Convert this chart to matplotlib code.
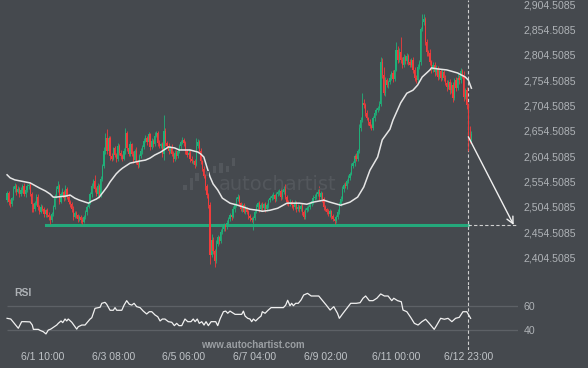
import matplotlib.pyplot as plt
from matplotlib.patches import Rectangle
import numpy as np

# hourly closes, first candle 5/31 11:00 (index 0)
closes = [2532, 2515, 2510, 2522, 2540, 2545, 2535, 2540, 2530, 2538,
          2545, 2530, 2538, 2545, 2548, 2530, 2510, 2500, 2512, 2525,
          2505, 2495, 2505, 2500, 2490, 2498, 2488, 2485, 2478, 2490,
          2505, 2525, 2540, 2545, 2515, 2530, 2535, 2522, 2540, 2525,
          2515, 2510, 2500, 2485, 2492, 2488, 2480, 2484, 2478, 2475,
          2485, 2494, 2505, 2515, 2530, 2545, 2555, 2540, 2530, 2545,
          2528, 2560, 2585, 2615, 2640, 2615, 2640, 2605, 2600, 2620,
          2608, 2600, 2625, 2612, 2605, 2600, 2615, 2650, 2620, 2610,
          2628, 2610, 2598, 2615, 2595, 2588, 2605, 2615, 2622, 2635,
          2640, 2632, 2648, 2622, 2635, 2628, 2645, 2650, 2630, 2625,
          2628, 2610, 2655, 2630, 2625, 2615, 2622, 2610, 2600, 2612,
          2605, 2615, 2625, 2632, 2636, 2630, 2615, 2608, 2612, 2600,
          2595, 2595, 2588, 2625, 2632, 2615, 2595, 2580, 2565, 2545,
          2528, 2508, 2410, 2440, 2418, 2398, 2432, 2445, 2438, 2455,
          2462, 2468, 2464, 2472, 2480, 2488, 2485, 2500, 2508, 2520,
          2525, 2512, 2500, 2508, 2495, 2502, 2494, 2486, 2482, 2478,
          2482, 2495, 2505, 2512, 2500, 2508, 2502, 2510, 2500, 2508,
          2518, 2522, 2526, 2528, 2520, 2530, 2534, 2536, 2524, 2535,
          2540, 2525, 2515, 2510, 2515, 2508, 2505, 2512, 2500, 2505,
          2500, 2506, 2495, 2485, 2498, 2502, 2505, 2510, 2516, 2522,
          2525, 2530, 2534, 2525, 2532, 2520, 2505, 2500, 2495, 2490,
          2496, 2486, 2480, 2476, 2485, 2495, 2510, 2520, 2540, 2548,
          2545, 2555, 2562, 2570, 2585, 2592, 2605, 2600, 2615, 2660,
          2676, 2710, 2705, 2690, 2680, 2672, 2665, 2660, 2680, 2690,
          2695, 2700, 2708, 2790, 2765, 2730, 2755, 2745, 2752, 2760,
          2768, 2758, 2775, 2815, 2795, 2810, 2795, 2785, 2800, 2792,
          2802, 2790, 2785, 2795, 2775, 2760, 2755, 2780, 2790, 2855,
          2870, 2876, 2830, 2810, 2808, 2790, 2775, 2785, 2770, 2778,
          2762, 2772, 2760, 2770, 2760, 2750, 2742, 2752, 2735, 2745,
          2720, 2755, 2740, 2760, 2755, 2772, 2765, 2722, 2735, 2705,
          2640, 2636, 2648]
first_open = 2518

# wick lengths above / below the body
up_wick = [5, 4, 6, 3, 5, 7, 4, 5, 3, 6,
           4, 6, 3, 5, 4, 6, 5, 3, 4, 6,
           5, 3, 6, 4, 5, 3, 4, 6, 3, 5,
           4, 6, 5, 11, 4, 5, 6, 3, 7, 4,
           5, 3, 4, 6, 5, 4, 3, 5, 4, 6,
           4, 5, 3, 6, 4, 7, 5, 12, 4, 6,
           5, 6, 4, 7, 10, 18, 5, 4, 6, 3,
           5, 4, 6, 3, 5, 4, 6, 10, 5, 4,
           6, 3, 5, 4, 7, 3, 5, 6, 4, 5,
           6, 4, 5, 3, 6, 4, 7, 5, 4, 6,
           3, 5, 31, 6, 4, 5, 3, 6, 4, 5,
           4, 6, 3, 5, 6, 4, 5, 3, 6, 4,
           5, 3, 4, 15, 6, 4, 5, 3, 6, 4,
           5, 4, 6, 12, 5, 4, 7, 5, 3, 6,
           4, 5, 3, 6, 4, 5, 3, 6, 4, 5,
           6, 4, 3, 5, 4, 6, 3, 5, 4, 3,
           5, 4, 6, 3, 5, 4, 6, 3, 5, 4,
           3, 5, 4, 6, 3, 5, 4, 3, 6, 4,
           5, 10, 4, 3, 5, 4, 3, 6, 4, 5,
           3, 4, 6, 3, 5, 4, 3, 5, 4, 6,
           5, 4, 6, 12, 4, 3, 5, 4, 3, 5,
           4, 3, 5, 4, 3, 5, 4, 6, 5, 4,
           6, 4, 5, 3, 6, 4, 5, 7, 4, 8,
           6, 20, 8, 4, 5, 3, 6, 4, 5, 4,
           5, 4, 6, 10, 8, 15, 6, 5, 4, 7,
           5, 6, 4, 15, 7, 8, 30, 5, 6, 4,
           7, 5, 6, 4, 5, 6, 4, 7, 5, 5,
           16, 9, 4, 6, 5, 8, 4, 6, 5, 7,
           4, 6, 5, 7, 4, 5, 6, 4, 5, 6,
           7, 5, 6, 8, 4, 6, 5, 7, 4, 6,
           5, 24, 6]
dn_wick = [4, 6, 5, 3, 4, 5, 6, 3, 5, 4,
           5, 4, 6, 3, 5, 4, 15, 5, 3, 4,
           6, 5, 3, 4, 6, 5, 4, 6, 8, 3,
           4, 5, 3, 6, 5, 3, 4, 6, 3, 5,
           4, 6, 5, 7, 3, 5, 6, 4, 6, 5,
           3, 4, 5, 3, 4, 5, 3, 6, 4, 5,
           6, 3, 5, 4, 6, 5, 4, 7, 5, 3,
           5, 6, 4, 5, 6, 4, 3, 5, 6, 4,
           4, 5, 6, 3, 5, 6, 4, 3, 5, 4,
           3, 5, 4, 6, 3, 5, 4, 3, 6, 5,
           4, 6, 13, 5, 4, 6, 3, 5, 6, 4,
           5, 3, 4, 6, 3, 5, 6, 4, 5, 6,
           4, 5, 6, 3, 5, 4, 6, 5, 4, 7,
           5, 6, 18, 5, 6, 12, 5, 4, 6, 5,
           4, 5, 6, 3, 5, 4, 6, 3, 5, 4,
           3, 5, 4, 6, 3, 5, 4, 6, 5, 4,
           18, 4, 3, 5, 6, 4, 5, 3, 6, 4,
           5, 3, 4, 6, 5, 3, 4, 5, 6, 3,
           4, 5, 6, 4, 3, 5, 6, 4, 5, 3,
           5, 4, 6, 5, 4, 3, 5, 4, 3, 5,
           4, 5, 3, 6, 4, 5, 6, 4, 5, 3,
           5, 6, 4, 6, 3, 4, 5, 3, 4, 5,
           3, 5, 4, 5, 3, 4, 6, 4, 5, 3,
           5, 4, 6, 5, 4, 6, 5, 3, 4, 5,
           4, 3, 5, 4, 6, 5, 7, 4, 6, 5,
           4, 6, 5, 3, 6, 5, 7, 6, 4, 5,
           5, 6, 4, 5, 7, 6, 5, 3, 4, 5,
           4, 6, 5, 7, 6, 5, 6, 4, 7, 5,
           6, 4, 7, 5, 6, 5, 8, 4, 7, 5,
           8, 5, 6, 4, 7, 5, 6, 8, 5, 7,
           25, 5, 4]

# moving average readings (candle index, price)
ma_idx = [0, 2, 5, 15, 21, 25, 28, 30, 32, 38, 41, 44, 47, 51, 53, 55, 58, 60, 62, 65,
          67, 69, 71, 73, 75, 78, 80, 83, 86, 90, 93, 96, 100, 103, 105, 109, 112, 119, 124, 126,
          128, 130, 132, 134, 137, 140, 145, 150, 154, 158, 163, 166, 171, 176, 182, 190, 195, 199, 206, 210,
          217, 221, 223, 228, 232, 236, 241, 244, 249, 251, 256, 260, 264, 267, 270, 275, 276, 280, 286, 293,
          298, 300, 302]
ma_val = [2568, 2562, 2558, 2552, 2542, 2536, 2530, 2524, 2524, 2526, 2528, 2522, 2518, 2514, 2512, 2516, 2520, 2524, 2532, 2544,
          2554, 2562, 2570, 2576, 2581, 2587, 2591, 2593, 2595, 2597, 2601, 2607, 2613, 2619, 2623, 2621, 2617, 2617, 2613, 2609,
          2603, 2583, 2564, 2550, 2538, 2522, 2512, 2508, 2504, 2500, 2498, 2496, 2498, 2502, 2512, 2512, 2510, 2514, 2518, 2514,
          2508, 2512, 2514, 2524, 2544, 2577, 2603, 2637, 2658, 2676, 2710, 2729, 2735, 2745, 2761, 2775, 2779, 2777, 2775, 2769,
          2761, 2755, 2739]

# RSI readings (candle index, value)
rsi_idx = [0, 2.4, 5.2, 7.3, 9.5, 11.7, 14.9, 16.4, 17.1, 20.3,
           21.4, 23.6, 25.3, 26.8, 28.4, 30.1, 32.3, 33.3, 35.1, 36.2,
           37.7, 38.8, 39.8, 42.1, 44.2, 45.3, 46.3, 48.6, 50.7, 52.2,
           54, 55.1, 56.1, 57.2, 60.5, 61.6, 63.7, 64.8, 67, 69.1,
           70.2, 71.3, 74.6, 76.1, 77.8, 79.5, 81.1, 82.6, 84.3, 86.5,
           88.6, 90.8, 92.5, 94.1, 96.2, 98, 99.5, 101, 102.7, 104.9,
           107.1, 108.8, 110.3, 111.8, 113.6, 115.7, 117.5, 119.6, 121.1, 122.3,
           123.7, 125, 126.6, 128.1, 129.4, 130.9, 132.7, 135.7, 137, 138.5,
           140.7, 142.2, 143.5, 145, 148.3, 152.6, 153.7, 154.8, 156.5, 158,
           159.1, 160.2, 161.7, 163.4, 165.2, 166, 167.8, 169.9, 171.7, 179.7,
           181.2, 182.5, 184, 185.1, 186.2, 187.7, 189.4, 191.2, 192.9, 195.4,
           197.8, 202.7, 205.2, 207.6, 210.1, 212.5, 214.9, 216.1, 218.5, 221,
           223.5, 227.1, 229.6, 231.5, 233.2, 235.6, 238, 240.5, 243, 245.4,
           247.8, 250.2, 251.5, 254, 256.4, 257.5, 260, 262.5, 264.9, 267.3,
           269.8, 272.2, 274.6, 277.8, 279.5, 282, 284.4, 286.8, 289.3, 291.7,
           294.1, 296.5, 299, 301.5]
rsi_val = [50, 49.4, 45, 41.7, 47.2, 47.2, 47, 44.4, 40.8, 40.8,
           40, 38.8, 37, 40.2, 41, 42.5, 44.4, 45.8, 47.8, 46.4,
           49.4, 47.8, 49.4, 46.7, 43, 41, 43, 44.4, 44.4, 46.7,
           49.4, 50.5, 54.2, 58.3, 59.2, 62.5, 63.3, 61.7, 56.7, 56.7,
           58.9, 56.7, 56.7, 61, 64.7, 61.7, 61, 62.5, 59.7, 58.9,
           56, 53.6, 55.5, 55.5, 52.8, 51.3, 47.8, 49.4, 49.4, 47.2,
           46.7, 43.9, 45.8, 43.9, 43.9, 49.4, 47.2, 47.2, 49.4, 47.2,
           49.4, 45.8, 47.2, 44.4, 47.2, 43.9, 47.2, 47.2, 43.9, 49.4,
           55.5, 56, 54.2, 56, 53.3, 53.3, 56, 51.9, 50, 49.4,
           47.2, 49.4, 47.8, 50, 51.9, 55.5, 54.2, 56.9, 58.9, 58.9,
           61, 65, 60.5, 62.5, 60.5, 62.5, 62.5, 65.3, 69.4, 70.8,
           68.6, 68.6, 64.7, 61, 56.9, 59.7, 54.2, 50, 54.2, 58.3,
           62.5, 62.5, 63, 66.7, 68.6, 64.7, 64.7, 66.7, 70.3, 68.6,
           68.6, 64.7, 66.7, 64.7, 63.8, 56.9, 55.5, 50.8, 45.8, 44.4,
           47.2, 49.2, 45.8, 40.8, 44.4, 50, 49.2, 50, 47.2, 50,
           50.8, 55.5, 55.5, 50]

date_idx = [23, 69, 115, 161, 207, 253, 300]
date_labels = ['6/1 10:00', '6/3 08:00', '6/5 06:00', '6/7 04:00',
               '6/9 02:00', '6/11 00:00', '6/12 23:00']
price_ticks = [2404.5085, 2454.5085, 2504.5085, 2554.5085, 2604.5085, 2654.5085,
               2704.5085, 2754.5085, 2804.5085, 2854.5085, 2904.5085]

support_level = 2469
support_start = 25
now_idx = 300
arrow_from = 2643
target_idx = 329.5

BG = '#45494e'
GREEN = '#1fb079'
RED = '#f23b3b'
TXT = '#aeb2b6'

fig = plt.figure(figsize=(5.88, 3.68), dpi=100, facecolor=BG)
ax = fig.add_axes([0, 1 - 285 / 368, 518 / 588, 285 / 368])
ax2 = fig.add_axes([0, 1 - 350 / 368, 518 / 588, 65 / 368])
for a in (ax, ax2):
    a.set_facecolor(BG)
    for s in a.spines.values():
        s.set_visible(False)
    a.set_xlim(-4.6, 332.3)

# candles
c = np.array(closes, float)
o = np.r_[first_open, c[:-1]]
top = np.maximum(o, c)
bot = np.minimum(o, c)
hi = top + np.array(up_wick)
lo = bot - np.array(dn_wick)
idx = np.arange(len(c))
cols = np.where(c >= o, GREEN, RED)
ax.vlines(idx, lo, hi, colors=cols, lw=0.6, zorder=3)
ax.bar(idx, np.maximum(top - bot, 1.0), bottom=bot, width=0.8, color=cols, lw=0, zorder=3)

ax.plot(ma_idx, ma_val, color='#e6e6e6', lw=1.1, zorder=4)

# support line, current time marker, projection arrow
ax.plot([support_start, now_idx], [support_level, support_level], color='#24a87b', lw=2.2, zorder=2)
ax.plot([now_idx, 332.3], [support_level, support_level], color='#d0d0d0', lw=0.8, ls=(0, (3, 2)), zorder=2)
ax.axvline(now_idx, color='#d0d0d0', lw=0.8, ls=(0, (3, 2)), zorder=2)
ax2.axvline(now_idx, color='#d0d0d0', lw=0.8, ls=(0, (3, 2)), zorder=2)
ax.annotate('', xy=(target_idx, support_level), xytext=(now_idx, arrow_from),
            arrowprops=dict(arrowstyle='->', color='#f0f0f0', lw=1.0,
                            mutation_scale=12, shrinkA=0, shrinkB=0), zorder=5)

ax.set_ylim(2350.5, 2913)
ax.yaxis.tick_right()
ax.set_yticks(price_ticks)
ax.set_yticklabels(['{:,.4f}'.format(p) for p in price_ticks])
ax.tick_params(axis='y', length=0, pad=4, labelsize=7.6, labelcolor=TXT)
for t in ax.get_yticklabels():
    t.set_fontfamily('Liberation Sans')
ax.set_xticks([])

# watermark
fig.text(278 / 588, 1 - 185 / 368, 'autochartist', ha='center', va='center',
         fontsize=14, color='#53575c', zorder=1)
icon = [(183, 186.5, 185, 190), (189.5, 193.3, 177.7, 190), (195, 199.3, 172.7, 180.5),
        (205.7, 209, 171, 176), (212.7, 216, 165.7, 173.3), (219.3, 223.3, 163.3, 173.3),
        (225.7, 229.3, 165.7, 171.7), (231.7, 235.3, 158.3, 165.7)]
for x0, x1, y0, y1 in icon:
    fig.patches.append(Rectangle((x0 / 588, 1 - y1 / 368), (x1 - x0) / 588, (y1 - y0) / 368,
                                 transform=fig.transFigure, color='#53575c', lw=0, zorder=1))

# RSI panel
ax2.set_ylim(23.6, 77.75)
ax2.hlines([60, 40], 0, 332.3, color='#5d6166', lw=0.9, zorder=1)
ax2.plot(rsi_idx, rsi_val, color='#f0f0f0', lw=0.9, zorder=3)
ax2.yaxis.tick_right()
ax2.set_yticks([60, 40])
ax2.tick_params(axis='y', length=0, pad=4, labelsize=7.6, labelcolor=TXT)
ax2.set_xticks(date_idx)
ax2.set_xticklabels(date_labels)
ax2.tick_params(axis='x', length=0, pad=1.5, labelsize=7.5, labelcolor='#bfc3c7')
for t in ax2.get_xticklabels() + ax2.get_yticklabels():
    t.set_fontfamily('Liberation Sans')
ax2.text(0.027, 0.88, 'RSI', transform=ax2.transAxes, fontsize=7.5, fontweight='bold',
         color=TXT, family='Liberation Sans', va='center')

fig.text(253 / 588, 1 - 345 / 368, 'www.autochartist.com', ha='center', va='center',
         fontsize=7, fontweight='bold', color='#9a9ea2', family='Liberation Sans')

fig.savefig('out.png', dpi=100, facecolor=BG)
